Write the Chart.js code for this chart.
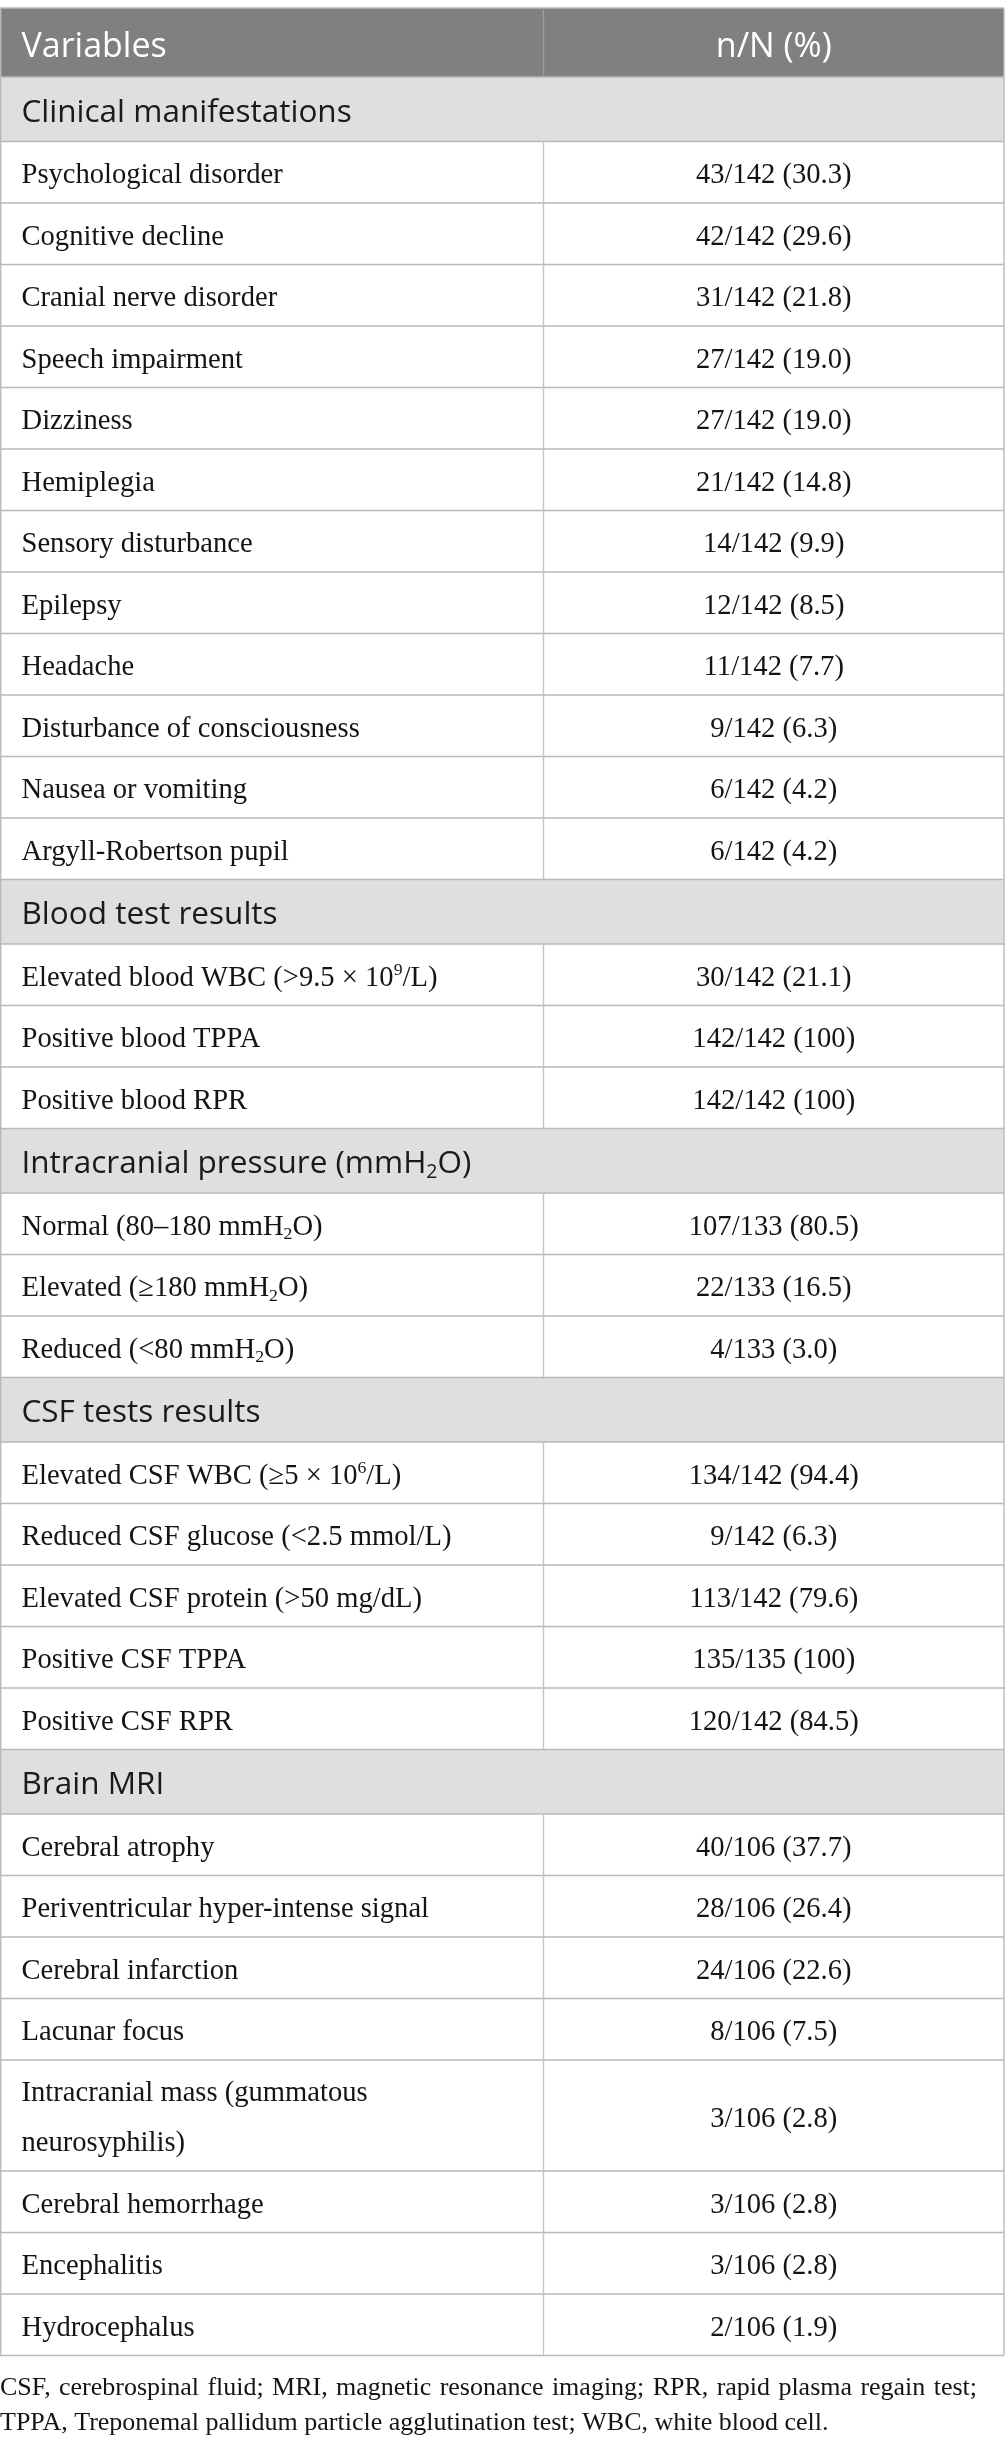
<!DOCTYPE html>
<html lang="en">
<head>
  <meta charset="UTF-8">
  <title>Neurosyphilis clinical features</title>
  <style>
    html, body { margin: 0; padding: 0; background: #fff; overflow: hidden; }
    #tableChart { display: block; }
  </style>
</head>
<body>
  <canvas id="tableChart" width="1005" height="2450"></canvas>

  <script src="https://cdn.jsdelivr.net/npm/chart.js"></script>
  <script>
    // Table content (^{..} = superscript, _{..} = subscript)
    const headers = ['Variables', 'n/N (%)'];
    const sections = ['Clinical manifestations', 'Blood test results', 'Intracranial pressure (mmH_{2}O)', 'CSF tests results', 'Brain MRI'];

    const clinicalItems = ['Psychological disorder', 'Cognitive decline', 'Cranial nerve disorder', 'Speech impairment', 'Dizziness',
      'Hemiplegia', 'Sensory disturbance', 'Epilepsy', 'Headache', 'Disturbance of consciousness', 'Nausea or vomiting', 'Argyll-Robertson pupil'];
    const clinicalN = [43, 42, 31, 27, 27, 21, 14, 12, 11, 9, 6, 6];
    const clinicalTotal = [142, 142, 142, 142, 142, 142, 142, 142, 142, 142, 142, 142];
    const clinicalPct = [30.3, 29.6, 21.8, 19.0, 19.0, 14.8, 9.9, 8.5, 7.7, 6.3, 4.2, 4.2];

    const bloodItems = ['Elevated blood WBC (>9.5 × 10^{9}/L)', 'Positive blood TPPA', 'Positive blood RPR'];
    const bloodN = [30, 142, 142];
    const bloodTotal = [142, 142, 142];
    const bloodPct = [21.1, 100, 100];

    const pressureItems = ['Normal (80–180 mmH_{2}O)', 'Elevated (≥180 mmH_{2}O)', 'Reduced (<80 mmH_{2}O)'];
    const pressureN = [107, 22, 4];
    const pressureTotal = [133, 133, 133];
    const pressurePct = [80.5, 16.5, 3.0];

    const csfItems = ['Elevated CSF WBC (≥5 × 10^{6}/L)', 'Reduced CSF glucose (<2.5 mmol/L)', 'Elevated CSF protein (>50 mg/dL)',
      'Positive CSF TPPA', 'Positive CSF RPR'];
    const csfN = [134, 9, 113, 135, 120];
    const csfTotal = [142, 142, 142, 135, 142];
    const csfPct = [94.4, 6.3, 79.6, 100, 84.5];

    const mriItems = ['Cerebral atrophy', 'Periventricular hyper-intense signal', 'Cerebral infarction', 'Lacunar focus',
      'Intracranial mass (gummatous\nneurosyphilis)', 'Cerebral hemorrhage', 'Encephalitis', 'Hydrocephalus'];
    const mriN = [40, 28, 24, 8, 3, 3, 3, 2];
    const mriTotal = [106, 106, 106, 106, 106, 106, 106, 106];
    const mriPct = [37.7, 26.4, 22.6, 7.5, 2.8, 2.8, 2.8, 1.9];

    const footnote = [
      'CSF, cerebrospinal fluid; MRI, magnetic resonance imaging; RPR, rapid plasma regain test;',
      'TPPA, Treponemal pallidum particle agglutination test; WBC, white blood cell.'
    ];

    // Layout (in scale units; the scales map them onto the canvas)
    const PAGE_W = 1005, PAGE_H = 2450;
    const TABLE_TOP = 8, HEADER_H = 69, SECTION_H = 64.5, ROW_H = 61.5, LINE_GAP = 49.5;
    const COL_SPLIT = 543.5, TABLE_RIGHT = 1004, PAD_X = 21.5, NOTE_JUSTIFY_W = 977;
    const SANS = '"Open Sans", "Noto Sans", sans-serif';
    const SERIF = '"Liberation Serif", "DejaVu Serif", serif';
    const HEAD_SIZE = 34, SECTION_SIZE = 31.5, SERIF_SIZE = 28.6, NOTE_SIZE = 26;
    const TEXT_COLOR = '#141414';

    const groups = [
      [clinicalItems, clinicalN, clinicalTotal, clinicalPct],
      [bloodItems, bloodN, bloodTotal, bloodPct],
      [pressureItems, pressureN, pressureTotal, pressurePct],
      [csfItems, csfN, csfTotal, csfPct],
      [mriItems, mriN, mriTotal, mriPct]
    ];

    function fmtPct(p) { return p === 100 ? '100' : p.toFixed(1); }

    // build the row list
    const rows = [];
    let cursor = TABLE_TOP;
    rows.push({ kind: 'header', top: cursor, bottom: cursor + HEADER_H });
    cursor += HEADER_H;
    groups.forEach((g, gi) => {
      rows.push({ kind: 'section', label: sections[gi], top: cursor, bottom: cursor + SECTION_H });
      cursor += SECTION_H;
      g[0].forEach((label, i) => {
        const lines = label.split('\n');
        const h = ROW_H + (lines.length - 1) * LINE_GAP;
        rows.push({ kind: 'item', lines, value: `${g[1][i]}/${g[2][i]} (${fmtPct(g[3][i])})`, top: cursor, bottom: cursor + h });
        cursor += h;
      });
    });
    const tableBottom = cursor;
    const itemRows = rows.filter(r => r.kind === 'item');

    // rich text helpers
    function parseRich(s) {
      return s.split(/(\^\{[^}]*\}|_\{[^}]*\})/).filter(Boolean).map(p => {
        if (p.startsWith('^{')) return { t: p.slice(2, -1), k: 'sup' };
        if (p.startsWith('_{')) return { t: p.slice(2, -1), k: 'sub' };
        return { t: p, k: 'n' };
      });
    }
    function drawRich(ctx, s, x, y, size, family, color, align) {
      const segs = parseRich(s);
      const fontFor = k => `${k === 'n' ? size : size * 0.62}px ${family}`;
      let w = 0;
      segs.forEach(sg => { ctx.font = fontFor(sg.k); sg.w = ctx.measureText(sg.t).width; w += sg.w; });
      let cx = align === 'center' ? x - w / 2 : x;
      ctx.fillStyle = color;
      ctx.textAlign = 'left';
      ctx.textBaseline = 'alphabetic';
      segs.forEach(sg => {
        ctx.font = fontFor(sg.k);
        const dy = sg.k === 'sup' ? -size * 0.36 : sg.k === 'sub' ? size * 0.16 : 0;
        ctx.fillText(sg.t, cx, y + dy);
        cx += sg.w;
      });
      return w;
    }
    // justified line: spread the words over the given width
    function drawJustified(ctx, s, x, y, width, size, family, color) {
      const words = s.split(' ');
      ctx.font = `${size}px ${family}`;
      const ws = words.map(wd => ctx.measureText(wd).width);
      const gap = (width - ws.reduce((a, b) => a + b, 0)) / (words.length - 1);
      let cx = x;
      words.forEach((wd, i) => { drawRich(ctx, wd, cx, y, size, family, color, 'left'); cx += ws[i] + gap; });
    }

    const tablePlugin = {
      id: 'tablePlugin',
      beforeDatasetsDraw(chart) {
        const { ctx, scales: { x, y } } = chart;
        const X0 = x.getPixelForValue(0), XS = x.getPixelForValue(COL_SPLIT), X1 = x.getPixelForValue(TABLE_RIGHT);
        ctx.save();
        rows.forEach(r => {
          const t = y.getPixelForValue(r.top), b = y.getPixelForValue(r.bottom);
          if (r.kind === 'header') { ctx.fillStyle = '#7f807f'; ctx.fillRect(X0, t, X1 - X0, b - t); }
          if (r.kind === 'section') { ctx.fillStyle = '#e0dfe0'; ctx.fillRect(X0, t, X1 - X0, b - t); }
        });
        ctx.lineWidth = 1.4;
        // horizontal rules
        ctx.strokeStyle = '#b9b9b9';
        rows.forEach(r => {
          const t = y.getPixelForValue(r.top);
          ctx.beginPath(); ctx.moveTo(X0, t); ctx.lineTo(X1, t); ctx.stroke();
        });
        const yb = y.getPixelForValue(tableBottom);
        ctx.beginPath(); ctx.moveTo(X0, yb); ctx.lineTo(X1, yb); ctx.stroke();
        // outer verticals
        const yt = y.getPixelForValue(TABLE_TOP);
        ctx.beginPath(); ctx.moveTo(X0 + 0.7, yt); ctx.lineTo(X0 + 0.7, yb); ctx.stroke();
        ctx.beginPath(); ctx.moveTo(X1, yt); ctx.lineTo(X1, yb); ctx.stroke();
        // column divider
        rows.forEach(r => {
          if (r.kind === 'section') return;
          ctx.strokeStyle = r.kind === 'header' ? '#9c9c9c' : '#c4c4c4';
          ctx.beginPath();
          ctx.moveTo(XS, y.getPixelForValue(r.top)); ctx.lineTo(XS, y.getPixelForValue(r.bottom));
          ctx.stroke();
        });
        ctx.restore();
      },
      afterDatasetsDraw(chart) {
        const { ctx, scales: { x, y } } = chart;
        const XL = x.getPixelForValue(PAD_X), XC = x.getPixelForValue((COL_SPLIT + TABLE_RIGHT) / 2);
        const meta = chart.getDatasetMeta(0);
        ctx.save();
        rows.forEach(r => {
          const mid = y.getPixelForValue((r.top + r.bottom) / 2);
          if (r.kind === 'header') {
            drawRich(ctx, headers[0], XL, mid + 14.5, HEAD_SIZE, SANS, '#ffffff', 'left');
            drawRich(ctx, headers[1], XC, mid + 14.5, HEAD_SIZE, SANS, '#ffffff', 'center');
          } else if (r.kind === 'section') {
            drawRich(ctx, r.label, XL, mid + 12.5, SECTION_SIZE, SANS, '#1a1a1a', 'left');
          }
        });
        itemRows.forEach((r, i) => {
          const pt = meta.data[i];
          const t = y.getPixelForValue(r.top);
          if (r.lines.length === 1) {
            drawRich(ctx, r.lines[0], XL, pt.y + 11, SERIF_SIZE, SERIF, TEXT_COLOR, 'left');
          } else {
            r.lines.forEach((ln, li) => drawRich(ctx, ln, XL, t + 41 + li * LINE_GAP, SERIF_SIZE, SERIF, TEXT_COLOR, 'left'));
          }
          drawRich(ctx, r.value, pt.x, pt.y + 11, SERIF_SIZE, SERIF, TEXT_COLOR, 'center');
        });
        const fy = y.getPixelForValue(tableBottom);
        const fx = x.getPixelForValue(0);
        footnote.forEach((ln, i) => {
          const by = fy + 39 + i * 35;
          if (i < footnote.length - 1) drawJustified(ctx, ln, fx, by, NOTE_JUSTIFY_W, NOTE_SIZE, SERIF, TEXT_COLOR);
          else drawRich(ctx, ln, fx, by, NOTE_SIZE, SERIF, TEXT_COLOR, 'left');
        });
        ctx.restore();
      }
    };

    function build() {
      new Chart(document.getElementById('tableChart'), {
        type: 'scatter',
        data: {
          datasets: [{
            label: 'n/N (%)',
            data: itemRows.map(r => ({ x: (COL_SPLIT + TABLE_RIGHT) / 2, y: (r.top + r.bottom) / 2 })),
            pointRadius: 0,
            pointHoverRadius: 0
          }]
        },
        options: {
          responsive: false,
          animation: false,
          devicePixelRatio: 1,
          layout: { padding: 0 },
          events: [],
          plugins: { legend: { display: false }, tooltip: { enabled: false } },
          scales: {
            x: { type: 'linear', min: 0, max: PAGE_W, display: false },
            y: { type: 'linear', min: 0, max: PAGE_H, reverse: true, display: false }
          }
        },
        plugins: [tablePlugin]
      });
    }

    Promise.all([
      document.fonts.load(`32px "Open Sans"`),
      document.fonts.load(`27px "Liberation Serif"`)
    ]).catch(() => {}).then(build);
  </script>
</body>
</html>
